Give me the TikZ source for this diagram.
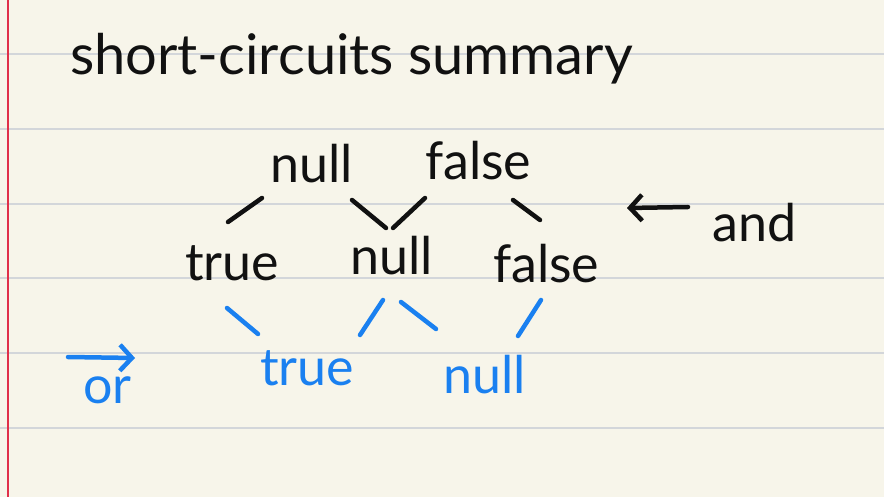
\documentclass[tikz,border=0pt]{standalone}
\usepackage{fontspec}
\setmainfont{Lato}
\usetikzlibrary{arrows.meta}
\definecolor{paper}{HTML}{F7F5EA}
\definecolor{rulegray}{HTML}{D3D6DA}
\definecolor{marginred}{HTML}{E0304A}
\definecolor{ink}{HTML}{111111}
\definecolor{blueink}{HTML}{1A80F0}
\begin{document}
\begin{tikzpicture}[x=1pt,y=-1pt,
  word/.style={inner sep=0pt, anchor=base west, font=\fontsize{52}{60}\selectfont},
  blackword/.style={word, text=ink},
  blueword/.style={word, text=blueink},
  stroke/.style={line width=4.5pt, line cap=round},
  blackstroke/.style={stroke, draw=ink},
  bluestroke/.style={stroke, draw=blueink},
  barb/.style={-{Straight Barb[length=12pt,width=26pt,line width=4.5pt]}}]
\fill[paper] (0,0) rectangle (884,497);
\useasboundingbox (0,0) rectangle (884,497);
\foreach \y in {54,129,204,278,353,428} \draw[rulegray, line width=2pt] (0,\y) -- (884,\y);
\draw[marginred, line width=2pt] (8,0) -- (8,497);

% title
\node[blackword, font=\fontsize{56}{60}\selectfont] (title) at (70,75) {short-circuits summary};

% and-row
\node[blackword] (nullA) at (270,183) {null};
\node[blackword] (falseA) at (425,180) {false};
\node[blackword] (trueB) at (185,280) {true};
\node[blackword] (nullB) at (350,275) {null};
\node[blackword] (falseB) at (493,283) {false};
\node[blackword] (andL) at (712,242) {and};

% or-row
\node[blueword] (trueC) at (260,385) {true};
\node[blueword] (nullC) at (443,393) {null};
\node[blueword] (orL) at (83,403) {or};

% stroke end points
\coordinate (s1a) at (262,198); \coordinate (s1b) at (228,222);
\coordinate (s2a) at (352,200); \coordinate (s2b) at (386,228);
\coordinate (s3a) at (425,198); \coordinate (s3b) at (393,228);
\coordinate (s4a) at (513,200); \coordinate (s4b) at (540,220);
\coordinate (b1a) at (227,308); \coordinate (b1b) at (258,334);
\coordinate (b2a) at (383,300); \coordinate (b2b) at (360,335);
\coordinate (b3a) at (401,302); \coordinate (b3b) at (436,329);
\coordinate (b4a) at (541,300); \coordinate (b4b) at (518,336);
\coordinate (andArrS) at (688,207); \coordinate (andArrE) at (627,208);
\coordinate (orArrS) at (68,357); \coordinate (orArrE) at (135,358);

\draw[blackstroke] (s1a) -- (s1b);
\draw[blackstroke] (s2a) -- (s2b);
\draw[blackstroke] (s3a) -- (s3b);
\draw[blackstroke] (s4a) -- (s4b);
\draw[bluestroke] (b1a) -- (b1b);
\draw[bluestroke] (b2a) -- (b2b);
\draw[bluestroke] (b3a) -- (b3b);
\draw[bluestroke] (b4a) -- (b4b);
\draw[blackstroke, barb] (andArrS) -- (andArrE);
\draw[bluestroke, barb] (orArrS) -- (orArrE);
\end{tikzpicture}
\end{document}
